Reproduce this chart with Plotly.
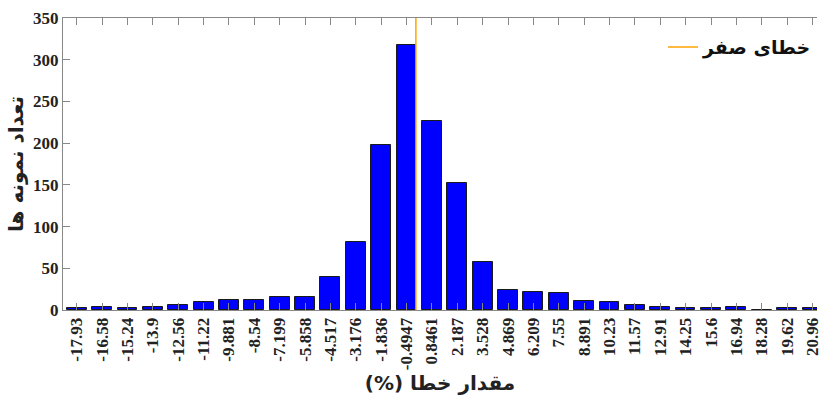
import plotly.graph_objects as go

bin_labels = ["-17.93", "-16.58", "-15.24", "-13.9", "-12.56", "-11.22", "-9.881", "-8.54",
              "-7.199", "-5.858", "-4.517", "-3.176", "-1.836", "-0.4947", "0.8461", "2.187",
              "3.528", "4.869", "6.209", "7.55", "8.891", "10.23", "11.57", "12.91", "14.25",
              "15.6", "16.94", "18.28", "19.62", "20.96"]
bin_centers = [float(s) for s in bin_labels]
counts = [2, 4, 2, 4, 6, 9, 12, 12, 15, 15, 40, 81, 198, 318, 227, 152, 57, 24, 21, 20,
          11, 9, 6, 4, 3, 2, 4, 0, 2, 2]
y_ticks = [0, 50, 100, 150, 200, 250, 300, 350]

fig = go.Figure()
fig.add_trace(go.Bar(
    x=bin_centers, y=counts, width=1.05,
    marker=dict(color="#0000FF", line=dict(color="#1a1a1a", width=1)),
    showlegend=False,
))
fig.add_trace(go.Scatter(
    x=[0, 0], y=[0, 350], mode="lines",
    line=dict(color="#FFA500", width=1.5),
    name="<b>خطای صفر</b>",
))

fig.update_layout(
    width=822, height=397,
    margin=dict(l=63, r=0, t=18, b=87),
    plot_bgcolor="white", paper_bgcolor="white",
    bargap=0,
    legend=dict(x=1.0, y=0.965, xanchor="right", yanchor="top",
                bgcolor="rgba(0,0,0,0)",
                font=dict(family="DejaVu Sans", size=19, color="#111"),
                itemwidth=30),
    xaxis=dict(
        range=[-18.65, 21.2],
        tickmode="array", tickvals=bin_centers, ticktext=bin_labels,
        tickangle=-90, ticklabeloverflow="allow",
        tickfont=dict(family="Liberation Serif", size=17, color="#222", weight="bold"),
        ticks="inside", ticklen=7, tickcolor="#888",
        showline=True, linecolor="#888", linewidth=1, mirror="ticks",
        showgrid=False, zeroline=False,
        title=dict(text="<b>مقدار خطا (%)\u200F</b>",
                   font=dict(family="DejaVu Sans", size=20, color="#222"),
                   standoff=6),
    ),
    yaxis=dict(
        range=[0, 350],
        tickvals=y_ticks,
        tickfont=dict(family="Liberation Serif", size=17, color="#222", weight="bold"),
        ticks="inside", ticklen=7, tickcolor="#888",
        showline=True, linecolor="#888", linewidth=1,
        showgrid=False, zeroline=False,
        title=dict(text="<b>تعداد نمونه ها</b>",
                   font=dict(family="DejaVu Sans", size=20, color="#222"),
                   standoff=4),
    ),
)
fig.write_html("out.html")
